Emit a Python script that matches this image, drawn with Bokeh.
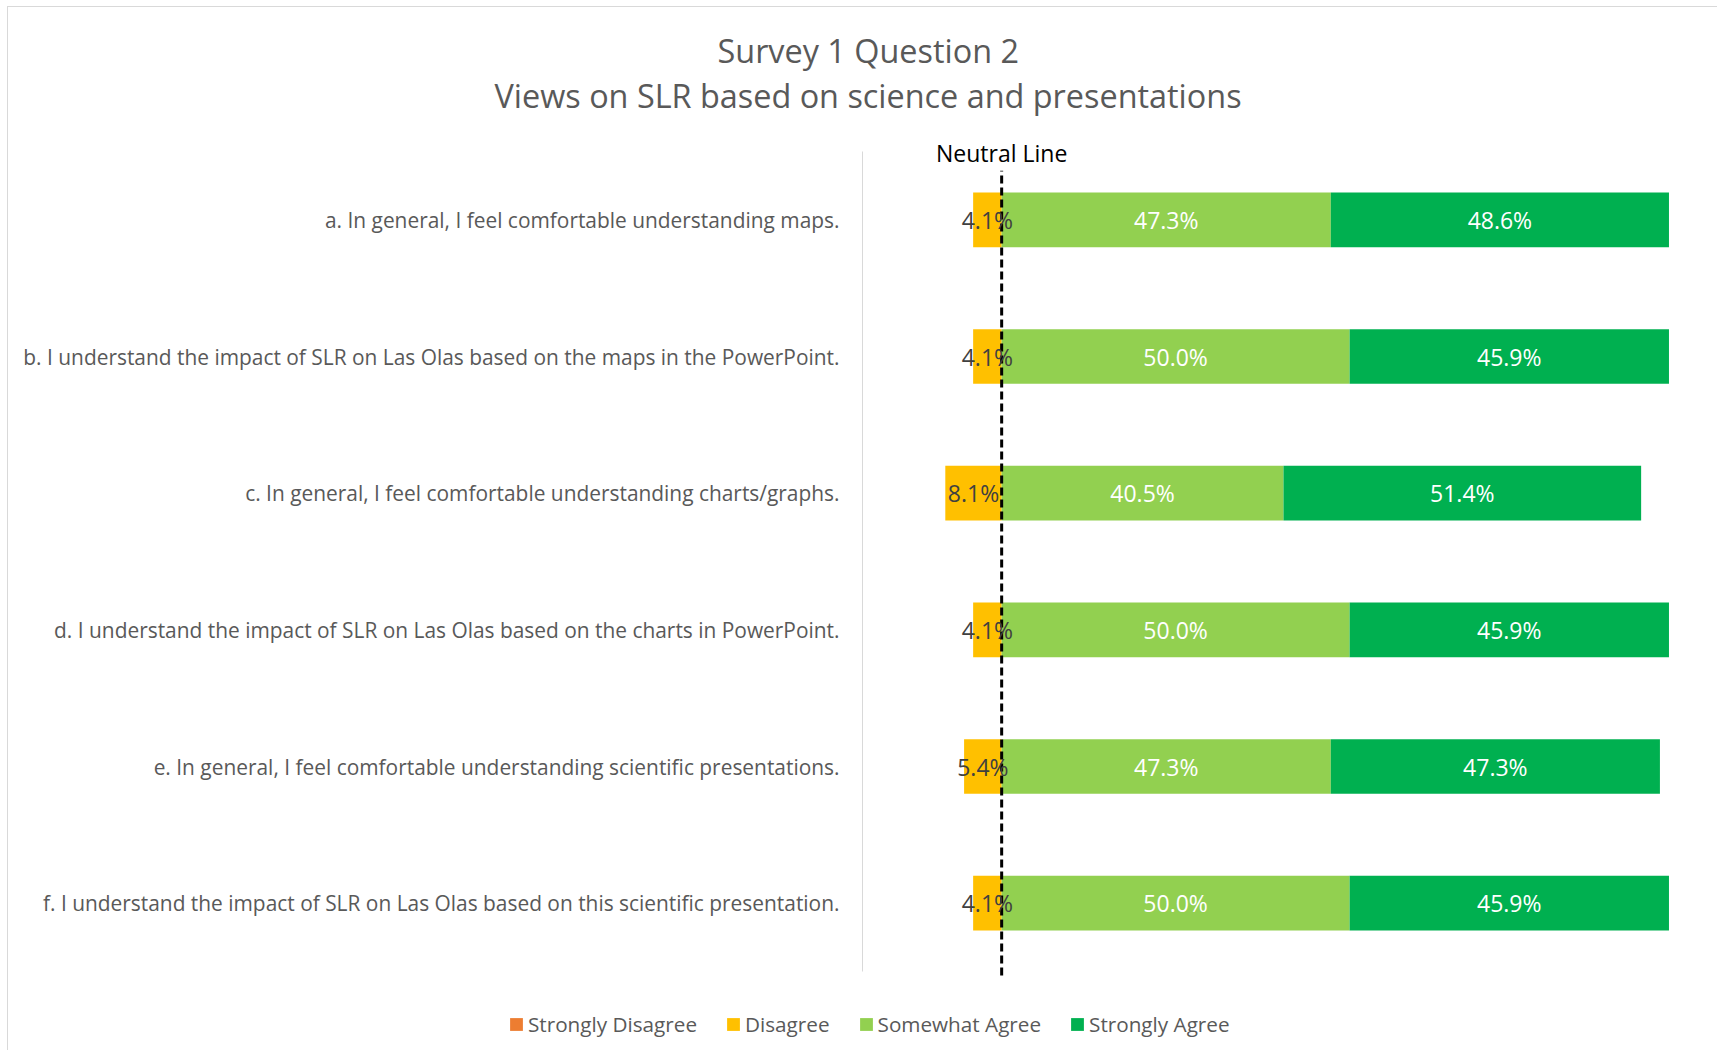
from bokeh.plotting import figure
from bokeh.models import Range1d, FixedTicker, Legend, LegendItem, Label, Title, ColumnDataSource
from bokeh.core.properties import value
from bokeh.embed import file_html
from bokeh.resources import INLINE

# ---------------- data ----------------
questions = [
    "a. In general, I feel comfortable understanding maps.",
    "b. I understand the impact of SLR on Las Olas based on the maps in the PowerPoint.",
    "c. In general, I feel comfortable understanding charts/graphs.",
    "d. I understand the impact of SLR on Las Olas based on the charts in PowerPoint.",
    "e. In general, I feel comfortable understanding scientific presentations.",
    "f. I understand the impact of SLR on Las Olas based on this scientific presentation.",
]
strongly_disagree = [0.0, 0.0, 0.0, 0.0, 0.0, 0.0]
disagree = [4.1, 4.1, 8.1, 4.1, 5.4, 4.1]
somewhat_agree = [47.3, 50.0, 40.5, 50.0, 47.3, 50.0]
strongly_agree = [48.6, 45.9, 51.4, 45.9, 47.3, 45.9]
series_names = ["Strongly Disagree", "Disagree", "Somewhat Agree", "Strongly Agree"]
series_colors = ["#ED7D31", "#FFC000", "#92D050", "#00B050"]
title_lines = ["Survey 1 Question 2", "Views on SLR based on science and presentations"]
neutral_text = "Neutral Line"

FONT = "Open Sans"
GRAY = "#595959"

n = len(questions)
ys = [n - i - 0.5 for i in range(n)]

# ---------------- layout geometry (canvas pixels) ----------------
W, H = 1710, 1044
AXIS_PX = 854          # where the value axis (x = -20 %) sits
RIGHT_PX = 1689        # x = 100 %
TOP_PX, BOTTOM_PX = 144, 964   # category band extent
FRAME_TOP = 131
X_MIN, X_MAX = -20, 100
ppu_x = (RIGHT_PX - AXIS_PX) / (X_MAX - X_MIN)
ppu_y = (BOTTOM_PX - TOP_PX) / n
x_start = X_MIN - AXIS_PX / ppu_x
y_start = -(H - BOTTOM_PX) / ppu_y
y_end = n + (TOP_PX - FRAME_TOP) / ppu_y

sd_l = [-(d + s) for s, d in zip(strongly_disagree, disagree)]
sd_r = [-d for d in disagree]
d_l = [-d for d in disagree]
d_r = [0.0 for _ in disagree]
sa_l = [0.0 for _ in somewhat_agree]
sa_r = list(somewhat_agree)
st_l = list(somewhat_agree)
st_r = [a + b for a, b in zip(somewhat_agree, strongly_agree)]
segs = [(sd_l, sd_r, strongly_disagree), (d_l, d_r, disagree),
        (sa_l, sa_r, somewhat_agree), (st_l, st_r, strongly_agree)]

p = figure(width=W, height=H, output_backend="svg", toolbar_location=None,
           x_range=Range1d(x_start, X_MAX), y_range=Range1d(y_start, y_end),
           min_border_left=0, min_border_right=W - RIGHT_PX, min_border_top=FRAME_TOP,
           min_border_bottom=0)
p.styles = {"margin-left": "7px", "margin-top": "6px",
            "border-left": "1px solid #D9D9D9", "border-top": "1px solid #D9D9D9"}
p.outline_line_color = None
p.grid.visible = False
p.xaxis.visible = False
p.background_fill_color = "white"
p.border_fill_color = "white"

renderers = []
label_x, label_y, label_t, label_c = [], [], [], []
label_colors = ["#404040", "#404040", "white", "white"]
for (l, r, vals), color, lc in zip(segs, series_colors, label_colors):
    src = ColumnDataSource(dict(y=ys, left=l, right=r))
    rr = p.hbar(y="y", left="left", right="right", height=0.4, source=src,
                fill_color=color, line_color=None)
    renderers.append(rr)
    for yy, a, b, v in zip(ys, l, r, vals):
        if v > 0:
            label_x.append((a + b) / 2)
            label_y.append(yy)
            label_t.append(f"{v:.1f}%")
            label_c.append(lc)

# neutral line
p.segment(x0=[0], y0=[-0.03], x1=[0], y1=[n - 0.14], line_color="black",
          line_width=3, line_dash="8 4")

lsrc = ColumnDataSource(dict(x=label_x, y=label_y, t=label_t, c=label_c))
p.text(x="x", y="y", text="t", source=lsrc, text_align="center", text_baseline="middle",
       text_color="c", text_font=value(FONT), text_font_size="23px")

p.add_layout(Label(x=0, y=n, y_offset=-1, text=neutral_text, text_align="center",
                   text_baseline="middle", text_font=FONT, text_font_size="23px",
                   text_color="black"))

# category axis, pinned at x = -20 %
p.yaxis.fixed_location = X_MIN
p.yaxis.ticker = FixedTicker(ticks=ys)
p.yaxis.major_label_overrides = {yy: q for yy, q in zip(ys, questions)}
p.yaxis.bounds = (0, n)
p.yaxis.major_tick_in = 0
p.yaxis.major_tick_out = 0
p.yaxis.minor_tick_line_color = None
p.yaxis.major_label_standoff = 23
p.yaxis.axis_line_color = "#D9D9D9"
p.yaxis.major_label_text_font = FONT
p.yaxis.major_label_text_font_size = "20.9px"
p.yaxis.major_label_text_color = GRAY

# titles (left edge measured from the frame's left edge)
t2 = Title(text=title_lines[1], align="left", offset=486, text_font=FONT,
           text_font_size="32.4px", text_color=GRAY, text_font_style="normal", standoff=43)
p.add_layout(t2, "above")
t1 = Title(text=title_lines[0], align="left", offset=709, text_font=FONT,
           text_font_size="32.4px", text_color=GRAY, text_font_style="normal", standoff=-44)
p.add_layout(t1, "above")

legend = Legend(items=[LegendItem(label=nm, renderers=[r]) for nm, r in zip(series_names, renderers)],
                orientation="horizontal", location=(500, 13), glyph_width=16, glyph_height=16,
                label_standoff=4, spacing=28, padding=0, margin=0, border_line_color=None,
                background_fill_alpha=0, label_text_font=FONT, label_text_font_size="20.7px",
                label_text_color=GRAY)
p.add_layout(legend)

open("out.html", "w").write(file_html(p, INLINE))
